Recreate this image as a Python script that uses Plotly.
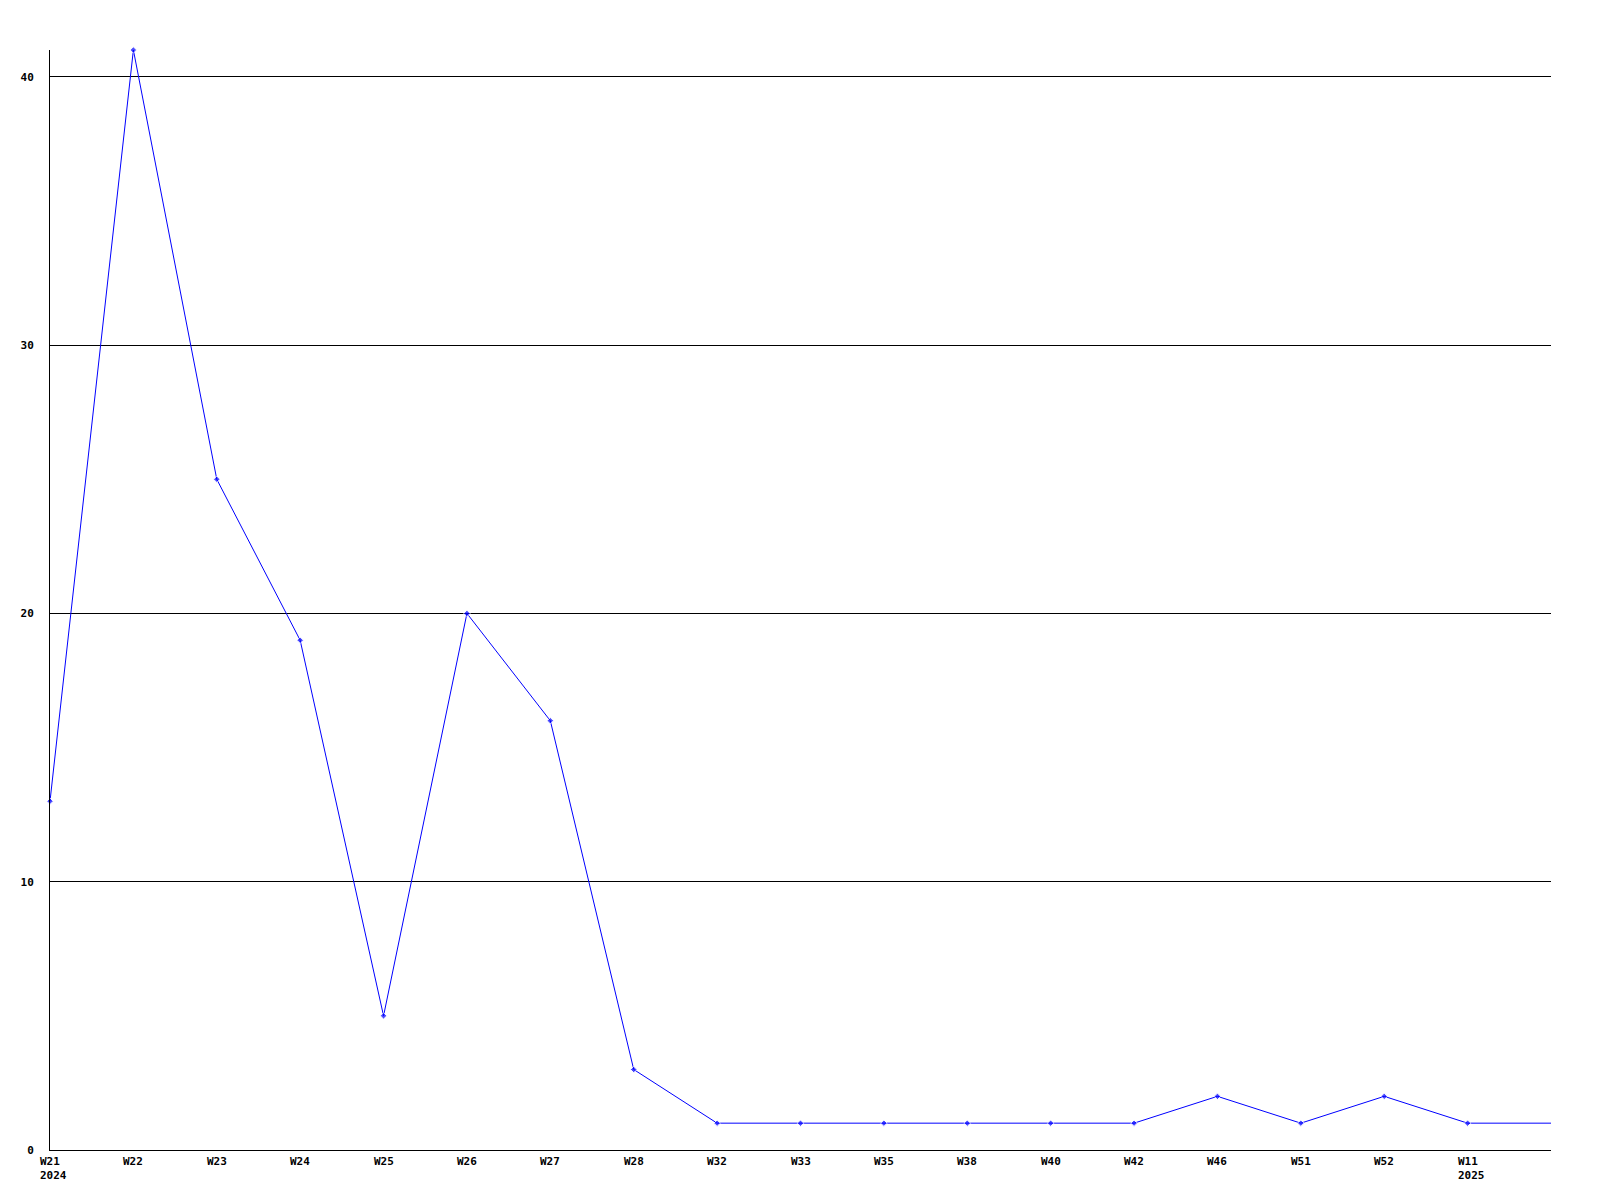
import plotly.graph_objects as go

weeks = ["W21", "W22", "W23", "W24", "W25", "W26", "W27", "W28", "W32", "W33",
         "W35", "W38", "W40", "W42", "W46", "W51", "W52", "W11", ""]
years = ["2024", "", "", "", "", "", "", "", "", "", "", "", "", "", "", "", "", "2025", ""]
values = [13, 41, 25, 19, 5, 20, 16, 3, 1, 1, 1, 1, 1, 1, 2, 1, 2, 1, 1]
y_ticks = [0, 10, 20, 30, 40]

xs = list(range(len(values)))
marker_sizes = [5] * (len(values) - 1) + [0]

fig = go.Figure()
fig.add_trace(go.Scatter(
    x=xs, y=values, mode="lines+markers",
    line=dict(color="#0000ff", width=1),
    marker=dict(symbol="diamond", size=marker_sizes, color="#0000ff"),
    cliponaxis=False, hoverinfo="skip", showlegend=False,
))

font = dict(family="DejaVu Sans Mono", size=11, color="#000000")

annotations = []
for i, (w, yr) in enumerate(zip(weeks, years)):
    if not w:
        continue
    txt = f"<b>{w}</b>" + (f"<br><b>{yr}</b>" if yr else "")
    annotations.append(dict(
        x=i, y=0, xref="x", yref="y", text=txt, showarrow=False,
        xanchor="left", yanchor="top", align="left", xshift=-12, yshift=-3,
        font=font,
    ))

fig.update_layout(
    width=1600, height=1200,
    margin=dict(l=42, r=57, t=42, b=58),
    paper_bgcolor="#ffffff", plot_bgcolor="#ffffff",
    annotations=annotations,
    xaxis=dict(range=[0, len(values) - 1], showgrid=False, zeroline=False,
               showticklabels=False, showline=True, linecolor="#000000", linewidth=1,
               ticks=""),
    yaxis=dict(range=[0, 41], tickvals=y_ticks,
               ticktext=[f"<b>{v}</b>" for v in y_ticks],
               showgrid=True, gridcolor="#000000", gridwidth=1, zeroline=False,
               showline=True, linecolor="#000000", linewidth=1, ticks="",
               ticklabelstandoff=13, tickfont=font),
)

fig.write_html("out.html")
